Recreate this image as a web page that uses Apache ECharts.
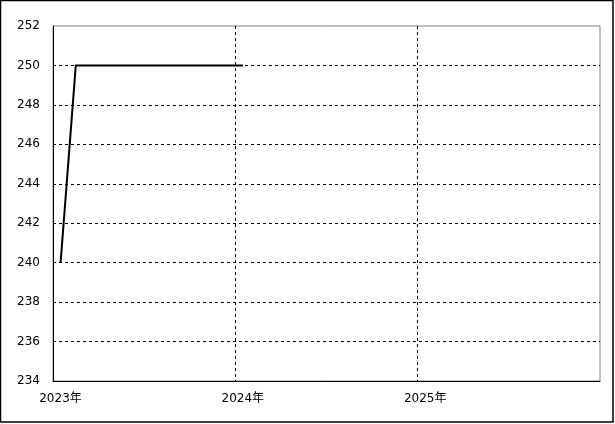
<!DOCTYPE html>
<html>
<head>
<meta charset="utf-8">
<script src="https://cdn.jsdelivr.net/npm/echarts@6/dist/echarts.min.js"></script>
<style>
html,body{margin:0;padding:0;background:#fff;}
#c{width:615px;height:424px;}
</style>
</head>
<body>
<div id="c"></div>
<script>
// months since Jan 2023 (x) and values (y)
const monthPos = [0.5, 1.5, 2.5, 3.5, 4.5, 5.5, 6.5, 7.5, 8.5, 9.5, 10.5, 11.5, 12.5];
const values = [240, 250, 250, 250, 250, 250, 250, 250, 250, 250, 250, 250, 250];
const yearTicks = [0, 12, 24];
const yearLabels = ['2023年', '2024年', '2025年'];

const chart = echarts.init(document.getElementById('c'), null, {renderer: 'canvas'});
const font = 'DejaVu Sans, "Noto Sans CJK JP", sans-serif';
chart.setOption({
  animation: false,
  backgroundColor: '#fff',
  graphic: [{
    type: 'rect',
    shape: {x: 0.5, y: 0.5, width: 612.5, height: 421.5},
    style: {fill: 'none', stroke: '#000', lineWidth: 1.5},
    silent: true,
    z: 100
  }],
  grid: {left: 53, top: 26, right: 15, bottom: 43, show: true, borderColor: '#808080', borderWidth: 1, backgroundColor: 'transparent'},
  xAxis: {
    type: 'value', min: 0, max: 36, interval: 12,
    axisLine: {show: true, onZero: false, lineStyle: {color: '#000', width: 1}},
    axisTick: {show: false},
    splitLine: {show: true, showMinLine: false, showMaxLine: false, lineStyle: {color: '#000', type: [3, 3], width: 1}},
    axisLabel: {
      color: '#000', fontSize: 12, fontFamily: font, margin: 12, padding: [0, 0, 0, 15],
      formatter: function (v) { const i = yearTicks.indexOf(v); return i >= 0 ? yearLabels[i] : ''; }
    }
  },
  yAxis: {
    type: 'value', min: 234, max: 252, interval: 2,
    axisLine: {show: true, lineStyle: {color: '#000', width: 1}},
    axisTick: {show: false},
    splitLine: {show: true, showMinLine: false, showMaxLine: false, lineStyle: {color: '#000', type: [3, 3], width: 1}},
    axisLabel: {color: '#000', fontSize: 12, fontFamily: font, margin: 13}
  },
  series: [{
    type: 'line',
    data: monthPos.map((m, i) => [m, values[i]]),
    symbol: 'none',
    lineStyle: {color: '#000', width: 2}
  }]
});
</script>
</body>
</html>
